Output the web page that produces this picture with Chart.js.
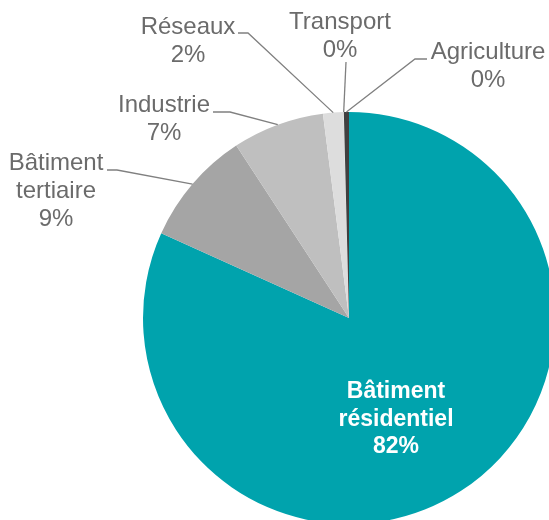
<!DOCTYPE html>
<html>
<head>
<meta charset="utf-8">
<script src="https://cdn.jsdelivr.net/npm/chart.js@4/dist/chart.umd.min.js"></script>
<style>
  html, body { margin: 0; padding: 0; background: #fff; overflow: hidden; width: 549px; height: 520px; }
  #wrap { position: absolute; left: 0; top: 0; width: 560px; height: 530px; }
</style>
</head>
<body>
<div id="wrap"><canvas id="c" width="560" height="530"></canvas></div>
<script>
// ---- data ----
const categories = ["Bâtiment résidentiel", "Bâtiment tertiaire", "Industrie", "Réseaux", "Transport", "Agriculture"];
const labelLines = [["Bâtiment", "résidentiel"], ["Bâtiment", "tertiaire"], ["Industrie"], ["Réseaux"], ["Transport"], ["Agriculture"]];
const shares = [81.75, 9.03, 7.2, 1.6, 0.02, 0.4];
const colors = ["#00A3AD", "#A5A5A5", "#BFBFBF", "#DDDDDD", "#EDEDED", "#404040"];

// ---- label layout (positions only) ----
const labelLayout = [
  { inside: true, x: 396, y: 392 },
  { x: 56,  y: 163, elbow: [117, 170], end: [107, 170] },
  { x: 164, y: 105, elbow: [230, 112], end: [213, 112] },
  { x: 188, y: 27,  elbow: [248, 33],  end: [238, 33] },
  { x: 340, y: 22,  elbow: [346, 62],  end: [346, 62] },
  { x: 488, y: 52,  elbow: [415, 59],  end: [427, 59] }
];

const total = shares.reduce((a, b) => a + b, 0);

const labelPlugin = {
  id: 'pieLabels',
  afterDatasetsDraw(chart) {
    const ctx = chart.ctx;
    const meta = chart.getDatasetMeta(0);
    ctx.save();
    meta.data.forEach((arc, i) => {
      const L = labelLayout[i];
      const pct = Math.round(shares[i] / total * 100) + '%';
      const lines = labelLines[i].concat([pct]);
      const p = arc.getProps(['x', 'y', 'startAngle', 'endAngle', 'outerRadius'], true);
      const mid = (p.startAngle + p.endAngle) / 2;
      ctx.textAlign = 'center';
      ctx.textBaseline = 'middle';
      if (L.inside) {
        ctx.fillStyle = '#ffffff';
        ctx.font = 'bold 23px "Liberation Sans", Arial, sans-serif';
        lines.forEach((t, k) => ctx.fillText(t, L.x, L.y + k * 27.5));
      } else {
        const ax = p.x + Math.cos(mid) * p.outerRadius;
        const ay = p.y + Math.sin(mid) * p.outerRadius;
        ctx.strokeStyle = '#808080';
        ctx.lineWidth = 1.3;
        ctx.beginPath();
        ctx.moveTo(L.end[0], L.end[1]);
        ctx.lineTo(L.elbow[0], L.elbow[1]);
        ctx.lineTo(ax, ay);
        ctx.stroke();
        ctx.fillStyle = '#6b6b6b';
        ctx.font = '24px "Liberation Sans", Arial, sans-serif';
        lines.forEach((t, k) => ctx.fillText(t, L.x, L.y + k * 28));
      }
    });
    ctx.restore();
  }
};

new Chart(document.getElementById('c'), {
  type: 'pie',
  data: {
    labels: categories,
    datasets: [{
      data: shares,
      backgroundColor: colors,
      borderWidth: 0
    }]
  },
  options: {
    responsive: false,
    animation: false,
    layout: { padding: { left: 143, top: 112, right: 5, bottom: 6 } },
    plugins: { legend: { display: false }, tooltip: { enabled: false } }
  },
  plugins: [labelPlugin]
});
</script>
</body>
</html>
